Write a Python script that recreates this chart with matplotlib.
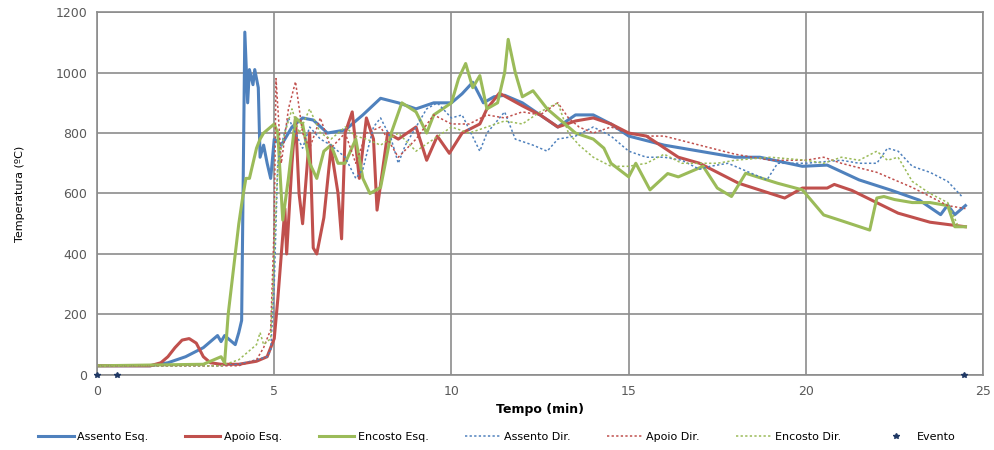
import matplotlib
matplotlib.use("Agg")
import matplotlib.pyplot as plt

# --- data (time in min, temperature in degC) ---
t_assento_esq = [0, 1.5, 2.0, 2.5, 3.0, 3.2, 3.4, 3.5, 3.6, 3.8, 3.9, 4.0, 4.08, 4.12, 4.17,
                 4.25, 4.3, 4.4, 4.45, 4.55, 4.6, 4.7, 4.8, 4.9, 5.0, 5.2, 5.5, 5.8, 6.1, 6.5,
                 7.0, 7.5, 8.0, 8.5, 9.0, 9.5, 10.0, 10.3, 10.6, 10.9, 11.2, 11.5, 12.0, 12.5,
                 13.0, 13.5, 14.0, 14.5, 15.0, 16.0, 17.0, 18.0, 18.7, 19.9, 20.6, 21.5, 22.4,
                 23.2, 23.8, 24.0, 24.2, 24.5]
v_assento_esq = [30, 30, 40, 60, 90, 110, 130, 110, 130, 110, 100, 140, 180, 600, 1134,
                 900, 1010, 960, 1010, 950, 720, 760, 700, 650, 780, 760, 820, 850, 843, 800,
                 810, 860, 915, 900, 880, 900, 900, 930, 968, 900, 920, 925, 900, 860,
                 820, 860, 860, 830, 790, 760, 740, 720, 720, 690, 694, 645, 611,
                 578, 530, 562, 530, 560]

t_apoio_esq = [0, 1.5, 1.8, 2.0, 2.2, 2.4, 2.6, 2.8, 3.0, 3.2, 3.5, 4.0, 4.5, 4.8, 5.0, 5.1,
               5.2, 5.3, 5.35, 5.5, 5.6, 5.7, 5.8, 6.0, 6.1, 6.2, 6.4, 6.6, 6.8, 6.9, 7.0,
               7.2, 7.4, 7.6, 7.8, 7.9, 8.2, 8.5, 9.0, 9.3, 9.6, 9.94, 10.3, 10.8, 11.0,
               11.35, 12.0, 12.5, 13.0, 13.5, 14.0, 14.5, 15.0, 15.5, 16.4, 17.0, 18.1,
               19.4, 19.9, 20.6, 20.8, 21.3, 22.6, 23.5, 24.5]
v_apoio_esq = [30, 30, 40, 60, 90, 115, 120, 105, 60, 40, 35, 35, 45, 60, 120, 250,
               400, 550, 400, 700, 850, 600, 500, 800, 420, 400, 520, 750, 600, 450, 800,
               870, 650, 850, 780, 545, 800, 780, 820, 710, 790, 733, 800, 830, 880,
               932, 890, 860, 820, 840, 850, 830, 800, 790, 720, 700, 634,
               585, 618, 618, 630, 610, 535, 505, 490]

t_encosto_esq = [0, 3.0, 3.3, 3.5, 3.6, 3.7, 3.9, 4.0, 4.1, 4.2, 4.3, 4.5, 4.6, 4.7, 5.0,
                 5.1, 5.24, 5.4, 5.6, 5.8, 6.0, 6.2, 6.4, 6.6, 6.8, 7.0, 7.3, 7.5, 7.7, 8.0,
                 8.3, 8.6, 9.0, 9.3, 9.5, 10.0, 10.2, 10.4, 10.6, 10.8, 11.0, 11.3, 11.5,
                 11.6, 11.8, 12.0, 12.3, 12.7, 13.0, 13.5, 14.0, 14.3, 14.5, 15.0, 15.2,
                 15.6, 16.1, 16.4, 17.1, 17.5, 17.9, 18.3, 19.2, 19.9, 20.5, 21.0, 21.8,
                 22.0, 22.2, 22.5, 23.0, 23.5, 24.0, 24.2, 24.5]
v_encosto_esq = [30, 35, 50, 60, 40, 200, 400, 500, 580, 650, 650, 750, 780, 800, 830,
                 800, 512, 650, 850, 830, 700, 650, 740, 760, 700, 700, 780, 650, 600, 620,
                 800, 900, 870, 800, 860, 900, 980, 1030, 950, 990, 880, 900, 1000,
                 1110, 1000, 920, 940, 880, 850, 800, 780, 750, 700, 655, 700,
                 612, 666, 655, 690, 618, 590, 667, 634, 612, 529, 510, 479,
                 585, 590, 580, 570, 570, 560, 490, 490]

t_assento_dir = [0, 3.5, 4.0, 4.5, 4.8, 4.9, 5.0, 5.1, 5.2, 5.4, 5.6, 5.8, 6.0, 6.3, 6.6,
                 7.0, 7.3, 7.5, 7.8, 8.0, 8.3, 8.5, 8.7, 9.0, 9.3, 9.6, 10.0, 10.3, 10.8,
                 11.0, 11.5, 11.8, 12.3, 12.7, 13.0, 13.5, 14.0, 14.5, 15.0, 15.5, 16.0,
                 16.5, 17.0, 17.3, 17.8, 18.9, 19.2, 20.0, 21.0, 21.5, 22.0, 22.3, 22.6,
                 23.0, 23.5, 24.0, 24.4]
v_assento_dir = [30, 30, 35, 50, 60, 80, 300, 700, 760, 850, 800, 750, 820, 780, 760,
                 720, 650, 680, 820, 850, 780, 700, 760, 820, 880, 900, 850, 860, 740,
                 800, 870, 780, 760, 740, 780, 790, 820, 790, 740, 720, 720,
                 710, 680, 690, 700, 645, 700, 700, 710, 700, 700, 750, 740,
                 690, 670, 640, 590]

t_apoio_dir = [0, 4.0, 4.5, 4.7, 4.9, 5.0, 5.05, 5.2, 5.4, 5.6, 5.8, 6.0, 6.3, 6.6, 7.0,
               7.3, 7.6, 8.0, 8.5, 9.0, 9.5, 10.0, 10.5, 11.0, 11.5, 12.0, 12.5, 13.0,
               13.3, 13.6, 14.0, 14.5, 15.0, 15.5, 16.0, 17.0, 18.0, 19.0, 20.0, 20.5,
               21.0, 22.0, 23.0, 24.0, 24.5]
v_apoio_dir = [30, 30, 50, 90, 150, 500, 980, 700, 880, 970, 800, 750, 850, 750, 800,
               700, 800, 820, 720, 780, 860, 830, 830, 860, 850, 870, 860, 900,
               850, 820, 800, 820, 800, 790, 790, 760, 730, 710, 710, 720,
               700, 670, 620, 560, 550]

t_encosto_dir = [0, 3.5, 4.0, 4.3, 4.5, 4.6, 4.7, 4.9, 5.0, 5.1, 5.3, 5.5, 5.7, 6.0, 6.3,
                 6.6, 7.0, 7.3, 7.6, 8.0, 8.5, 9.0, 9.5, 10.0, 10.5, 11.0, 11.5, 12.0,
                 12.5, 13.0, 13.3, 13.6, 14.0, 14.5, 15.0, 15.5, 16.0, 16.5, 17.0, 17.5,
                 18.0, 19.0, 20.0, 20.5, 21.0, 21.5, 22.0, 22.3, 22.6, 23.0, 23.5, 24.0,
                 24.3]
v_encosto_dir = [30, 30, 50, 80, 100, 140, 100, 120, 400, 700, 800, 880, 800, 880, 800,
                 780, 820, 790, 780, 760, 800, 740, 780, 820, 800, 820, 840, 830,
                 870, 900, 800, 760, 720, 690, 690, 700, 730, 700, 700, 700,
                 710, 720, 710, 700, 720, 710, 740, 710, 720, 640, 600, 570,
                 490]

t_evento = [0, 0.55, 24.45]
v_evento = [0, 0, 0]

BLUE = "#4F81BD"
RED = "#C0504D"
GREEN = "#9BBB59"
GRID = "#8c8c8c"
TEXT = "#595959"

fig = plt.figure(figsize=(9.94, 4.5), dpi=100)
ax = fig.add_axes([0.0976, 0.167, 0.8915, 0.806])

ax.plot(t_assento_esq, v_assento_esq, color=BLUE, lw=2.2, label="Assento Esq.")
ax.plot(t_apoio_esq, v_apoio_esq, color=RED, lw=2.2, label="Apoio Esq.")
ax.plot(t_encosto_esq, v_encosto_esq, color=GREEN, lw=2.2, label="Encosto Esq.")
ax.plot(t_assento_dir, v_assento_dir, color=BLUE, lw=1.1, ls=(0, (1.5, 1.5)), label="Assento Dir.")
ax.plot(t_apoio_dir, v_apoio_dir, color=RED, lw=1.1, ls=(0, (1.5, 1.5)), label="Apoio Dir.")
ax.plot(t_encosto_dir, v_encosto_dir, color=GREEN, lw=1.1, ls=(0, (1.5, 1.5)), label="Encosto Dir.")
ax.plot(t_evento, v_evento, ls="none", marker="*", ms=4, color="#1f3864",
        clip_on=False, zorder=5, label="Evento")

ax.set_xlim(0, 25)
ax.set_ylim(0, 1200)
ax.set_xticks(range(0, 26, 5))
ax.set_yticks(range(0, 1201, 200))
ax.grid(True, color=GRID, lw=1.2)
ax.set_axisbelow(True)
for sp in ax.spines.values():
    sp.set_color(GRID)
    sp.set_linewidth(1.2)
ax.tick_params(length=0, labelsize=9, colors=TEXT, pad=7)

ax.set_xlabel("Tempo (min)", fontsize=9, fontweight="bold", color="black", labelpad=4)
ax.set_ylabel("Temperatura (ºC)", fontsize=8, color="black", labelpad=22)

fig.legend(loc="lower center", bbox_to_anchor=(0.5, -0.005), ncol=7, frameon=False,
           fontsize=8, handlelength=3.2, columnspacing=3.3, handletextpad=0.3)

fig.savefig("out.png", dpi=100, facecolor="white")
